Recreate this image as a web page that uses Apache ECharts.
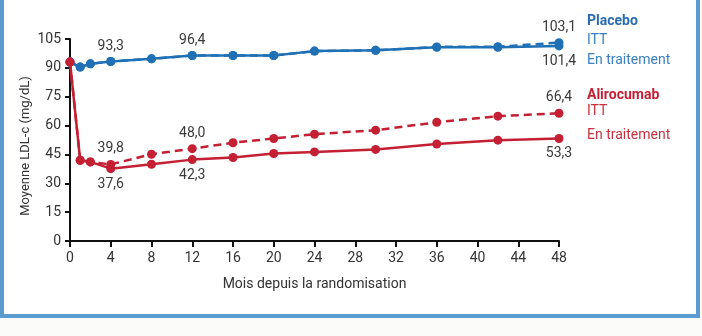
<!DOCTYPE html>
<html>
<head>
<meta charset="utf-8">
<script src="https://cdn.jsdelivr.net/npm/echarts@6/dist/echarts.min.js"></script>
<style>
  html, body { margin: 0; padding: 0; background: #fbfbf9; }
  #frame { position: absolute; left: 0px; top: -10px; width: 692px; height: 320px;
           border: 4px solid #5b9bd0; background: #ffffff; }
  #chart { position: absolute; left: 0; top: 0; width: 702px; height: 336px; }
</style>
</head>
<body>
<div id="frame"></div>
<div id="chart"></div>
<script>
// ---- data ----
const months = [0, 1, 2, 4, 8, 12, 16, 20, 24, 30, 36, 42, 48];
const placeboOnTreatment = [93.0, 90.4, 92.1, 93.3, 94.7, 96.4, 96.4, 96.4, 98.7, 99.1, 100.7, 100.7, 101.4];
const placeboITT         = [93.0, 90.4, 92.1, 93.3, 94.7, 96.4, 96.4, 96.4, 98.7, 99.1, 100.9, 101.0, 103.1];
const aliroOnTreatment   = [93.0, 42.0, 41.1, 37.6, 39.9, 42.3, 43.4, 45.5, 46.3, 47.6, 50.4, 52.4, 53.3];
const aliroITT           = [93.0, 42.0, 41.1, 39.8, 45.1, 48.0, 51.1, 53.3, 55.5, 57.6, 61.7, 64.9, 66.4];
// indices of points carrying value labels
const placeboOnTreatLabels = { 3: 'top', 5: 'top', 12: 'bottom' };
const placeboITTLabels     = { 12: 'top' };
const aliroOnTreatLabels   = { 3: 'bottom', 5: 'bottom', 12: 'bottom' };
const aliroITTLabels       = { 3: 'top', 5: 'top', 12: 'top' };
const yTicks = [0, 15, 30, 45, 60, 75, 90, 105];
const xTicks = [0, 4, 8, 12, 16, 20, 24, 28, 32, 36, 40, 44, 48];

const BLUE = '#1f70b5';
const RED = '#c41f33';
const FONT = 'Roboto';

function fmt(v) { return v.toFixed(1).replace('.', ','); }

function buildData(values, labels, dist) {
  return months.map((m, i) => {
    const item = { value: [m, values[i]] };
    if (labels[i]) {
      item.label = {
        show: true, position: labels[i], distance: dist,
        formatter: () => fmt(values[i]),
        color: '#3a3a3a', fontSize: 14, fontFamily: FONT
      };
    }
    return item;
  });
}

function series(name, values, labels, color, dashed, z) {
  return {
    name, type: 'line', z,
    data: buildData(values, labels, 4),
    symbol: 'circle', symbolSize: 9,
    itemStyle: { color },
    lineStyle: { color, width: 2.5, type: dashed ? [8, 5] : 'solid' },
    label: { show: false },
    emphasis: { disabled: true },
    animation: false
  };
}

const chart = echarts.init(document.getElementById('chart'), null, { renderer: 'canvas' });
chart.setOption({
  animation: false,
  grid: { left: 70, right: 143, top: 39, bottom: 95 },
  xAxis: {
    type: 'value', min: 0, max: 48, interval: 4,
    name: 'Mois depuis la randomisation', nameLocation: 'middle', nameGap: 36,
    nameTextStyle: { color: '#333', fontSize: 14, fontFamily: FONT },
    axisLine: { lineStyle: { color: '#111', width: 2 } },
    axisTick: { show: true, length: 6, lineStyle: { color: '#111', width: 2 } },
    axisLabel: { color: '#333', fontSize: 14, fontFamily: FONT, margin: 10,
                 formatter: v => xTicks.includes(v) ? String(v) : '' },
    splitLine: { show: false }
  },
  yAxis: {
    type: 'value', min: 0, max: 105, interval: 15,
    axisLine: { show: true, lineStyle: { color: '#111', width: 2 } },
    axisTick: { show: true, length: 5, lineStyle: { color: '#111', width: 2 } },
    axisLabel: { color: '#333', fontSize: 14, fontFamily: FONT, margin: 9,
                 formatter: v => yTicks.includes(v) ? String(v) : '' },
    splitLine: { show: false }
  },
  series: [
    series('Placebo ITT', placeboITT, placeboITTLabels, BLUE, true, 2),
    series('Placebo En traitement', placeboOnTreatment, placeboOnTreatLabels, BLUE, false, 3),
    series('Alirocumab ITT', aliroITT, aliroITTLabels, RED, true, 4),
    series('Alirocumab En traitement', aliroOnTreatment, aliroOnTreatLabels, RED, false, 5)
  ],
  graphic: [
    { type: 'text', x: 26, y: 146, rotation: Math.PI / 2,
      style: { text: 'Moyenne LDL-c (mg/dL)', fill: '#333', fontSize: 13, fontFamily: FONT,
               textAlign: 'center', textVerticalAlign: 'middle' } },
    { type: 'text', left: 587, top: 14, style: { text: 'Placebo', fill: '#2a6cb0', fontSize: 14, fontWeight: 'bold', fontFamily: FONT } },
    { type: 'text', left: 587, top: 33, style: { text: 'ITT', fill: '#3a80c2', fontSize: 14, fontFamily: FONT } },
    { type: 'text', left: 587, top: 53, style: { text: 'En traitement', fill: '#3a80c2', fontSize: 14, fontFamily: FONT } },
    { type: 'text', left: 587, top: 88, style: { text: 'Alirocumab', fill: '#c41f33', fontSize: 14, fontWeight: 'bold', fontFamily: FONT } },
    { type: 'text', left: 587, top: 104, style: { text: 'ITT', fill: '#c8303f', fontSize: 14, fontFamily: FONT } },
    { type: 'text', left: 587, top: 128, style: { text: 'En traitement', fill: '#c8303f', fontSize: 14, fontFamily: FONT } }
  ]
});
</script>
</body>
</html>
